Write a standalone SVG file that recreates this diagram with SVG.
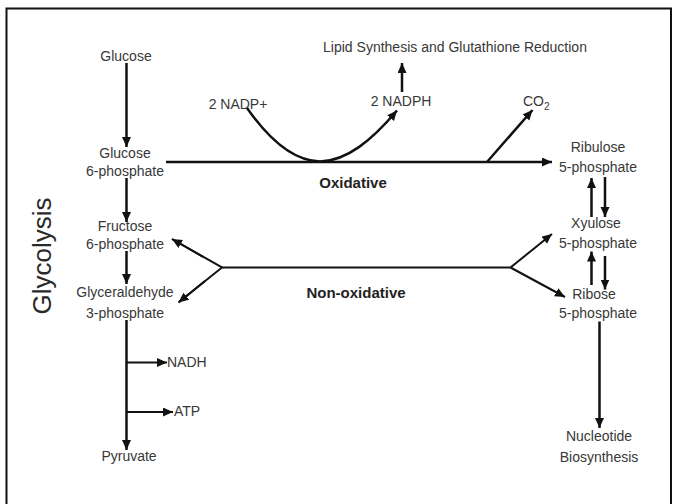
<svg xmlns="http://www.w3.org/2000/svg" width="677" height="504" viewBox="0 0 677 504">
<style>
.t{font-family:"Liberation Sans",Arial,sans-serif;font-size:14px;fill:#383838;text-anchor:middle}
.b{font-family:"Liberation Sans",Arial,sans-serif;font-size:15px;font-weight:bold;fill:#222;text-anchor:middle}
.g{font-family:"Liberation Sans",Arial,sans-serif;font-size:26px;fill:#2a2a2a;text-anchor:middle}
.c{fill:none;stroke:#111;stroke-width:2.5}
.a{marker-end:url(#ah)}
</style>
<defs>
<marker id="ah" markerUnits="userSpaceOnUse" markerWidth="11" markerHeight="10" refX="10" refY="4.5" orient="auto">
<path d="M0,0 L10,4.5 L0,9 z" fill="#111"/>
</marker>
</defs>
<rect x="0" y="0" width="677" height="504" fill="#fff"/>
<rect x="6.5" y="8.5" width="664.5" height="520" fill="none" stroke="#111" stroke-width="2"/>
<g id="glycolysis-label"><text class="g" transform="translate(51,256) rotate(-90)">Glycolysis</text></g>
<g id="glucose"><text class="t" x="126" y="61">Glucose</text></g>
<g id="glucose-6-phosphate"><text class="t" x="125" y="158">Glucose</text><text class="t" x="125" y="176">6-phosphate</text></g>
<g id="fructose-6-phosphate"><text class="t" x="125" y="231">Fructose</text><text class="t" x="125" y="249">6-phosphate</text></g>
<g id="glyceraldehyde-3-phosphate"><text class="t" x="125" y="297">Glyceraldehyde</text><text class="t" x="125" y="318">3-phosphate</text></g>
<g id="nadh"><text class="t" x="167" y="367" style="text-anchor:start">NADH</text></g>
<g id="atp"><text class="t" x="174" y="416" style="text-anchor:start">ATP</text></g>
<g id="pyruvate"><text class="t" x="129" y="461">Pyruvate</text></g>
<g id="nadp"><text class="t" x="238" y="109">2 NADP+</text></g>
<g id="nadph"><text class="t" x="401" y="106">2 NADPH</text></g>
<g id="lipid"><text class="t" x="455" y="51.5">Lipid Synthesis and Glutathione Reduction</text></g>
<g id="co2"><text class="t" x="523" y="106" style="text-anchor:start">CO<tspan font-size="10" dy="4">2</tspan></text></g>
<g id="oxidative"><text class="b" x="353" y="188">Oxidative</text></g>
<g id="non-oxidative"><text class="b" x="356" y="298">Non-oxidative</text></g>
<g id="ribulose-5-phosphate"><text class="t" x="598" y="152">Ribulose</text><text class="t" x="598" y="172">5-phosphate</text></g>
<g id="xylulose-5-phosphate"><text class="t" x="596" y="227.5">Xyulose</text><text class="t" x="598" y="247.5">5-phosphate</text></g>
<g id="ribose-5-phosphate"><text class="t" x="594" y="299">Ribose</text><text class="t" x="598" y="318">5-phosphate</text></g>
<g id="nucleotide-biosynthesis"><text class="t" x="599" y="441">Nucleotide</text><text class="t" x="599" y="462">Biosynthesis</text></g>
<g id="connectors">
<line class="c a" x1="126.5" y1="63" x2="126.5" y2="147"/>
<line class="c a" x1="126.5" y1="178" x2="126.5" y2="222"/>
<line class="c a" x1="126.5" y1="251" x2="126.5" y2="284"/>
<line class="c a" x1="126.5" y1="320" x2="126.5" y2="450"/>
<line class="c a" x1="126.5" y1="362.5" x2="167" y2="362.5" style="stroke-width:2"/>
<line class="c a" x1="126.5" y1="412" x2="173" y2="412" style="stroke-width:2"/>
<line class="c a" x1="166" y1="162" x2="552" y2="162"/>
<path class="c a" d="M247,108 C268,138 292,161 320,161.5 C347,161 372,140 397,110.5"/>
<line class="c a" x1="402" y1="92" x2="402" y2="63"/>
<line class="c a" x1="487" y1="162" x2="532.5" y2="110"/>
<polyline class="c" points="172,239 222,267.5 179,302" style="stroke-width:2"/>
<line class="c a" x1="203" y1="256.8" x2="172" y2="239" style="stroke-width:2"/>
<line class="c a" x1="205" y1="281" x2="178.5" y2="302.5" style="stroke-width:2"/>
<line class="c" x1="222" y1="267.5" x2="510.5" y2="267.5" style="stroke-width:2"/>
<line class="c a" x1="510.5" y1="267.5" x2="552" y2="234" style="stroke-width:2"/>
<line class="c a" x1="510.5" y1="267.5" x2="565" y2="297" style="stroke-width:2"/>
<line class="c a" x1="591.5" y1="217" x2="591.5" y2="178"/>
<line class="c a" x1="605" y1="177" x2="605" y2="217"/>
<line class="c a" x1="591.5" y1="285" x2="591.5" y2="251.5"/>
<line class="c a" x1="605" y1="256" x2="605" y2="289.5"/>
<line class="c a" x1="599.5" y1="321.5" x2="599.5" y2="428"/>
</g>
</svg>
